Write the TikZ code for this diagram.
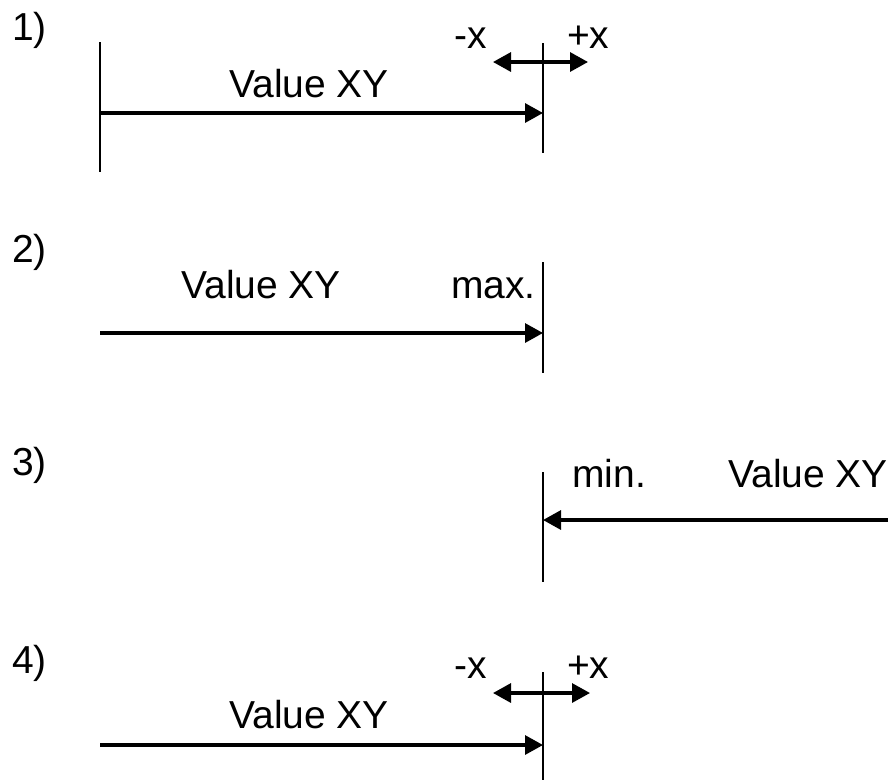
\documentclass[tikz,border=0pt]{standalone}
\usepackage{fontspec}
\setmainfont{Liberation Sans}
\usetikzlibrary{calc,arrows.meta}

\begin{document}
\begin{tikzpicture}[x=1pt,y=-1pt,
    txt/.style={anchor=base west,inner sep=0pt,font=\fontsize{39}{41}\selectfont},
    mark line/.style={line width=2.6pt},
    value arrow/.style={line width=3.2pt,-{Triangle[length=18pt,width=19pt]}},
    shift arrow/.style={line width=3.2pt,{Triangle[length=18pt,width=19pt]}-{Triangle[length=18pt,width=19pt]}}]
      \useasboundingbox (0,0) rectangle (890,780);
      % 1)
      \draw (12,40) node [txt] (num1) {1)}
        (229,97) node [txt] (val1) {Value XY}
        (454,48) node [txt] (minus1) {-x}
        (567,48) node [txt] (plus1) {+x}
        (100,42) coordinate (ltop1) (100,172) coordinate (lbot1)
        (543,43) coordinate (top1) (543,153) coordinate (bot1)
        (100,113) coordinate (from1) (543,113) coordinate (to1)
        (493,62) coordinate (sl1) (588,62) coordinate (sr1);
      \draw[mark line]
        (ltop1) -- (lbot1)
        (top1) -- (bot1);
      \draw[value arrow] (from1) -- (to1);
      \draw[shift arrow] (sl1) -- (sr1);
      % 2)
      \draw (12,262) node [txt] (num2) {2)}
        (181,298) node [txt] (val2) {Value XY}
        (451,298) node [txt] (max2) {max.}
        (543,262) coordinate (top2) (543,373) coordinate (bot2)
        (100,333) coordinate (from2) (543,333) coordinate (to2);
      \draw[mark line] (top2) -- (bot2);
      \draw[value arrow] (from2) -- (to2);
      % 3)
      \draw (12,475) node [txt] (num3) {3)}
        (572,487) node [txt] (min3) {min.}
        (728,487) node [txt] (val3) {Value XY}
        (543,472) coordinate (top3) (543,582) coordinate (bot3)
        (888,520) coordinate (from3) (543,520) coordinate (to3);
      \draw[mark line] (top3) -- (bot3);
      \draw[value arrow] (from3) -- (to3);
      % 4)
      \draw (12,673) node [txt] (num4) {4)}
        (229,728) node [txt] (val4) {Value XY}
        (454,678) node [txt] (minus4) {-x}
        (567,678) node [txt] (plus4) {+x}
        (543,672) coordinate (top4) (543,780) coordinate (bot4)
        (100,745) coordinate (from4) (543,745) coordinate (to4)
        (493,693) coordinate (sl4) (590,693) coordinate (sr4);
      \draw[mark line] (top4) -- (bot4);
      \draw[value arrow] (from4) -- (to4);
      \draw[shift arrow] (sl4) -- (sr4);
    \end{tikzpicture}
\end{document}
